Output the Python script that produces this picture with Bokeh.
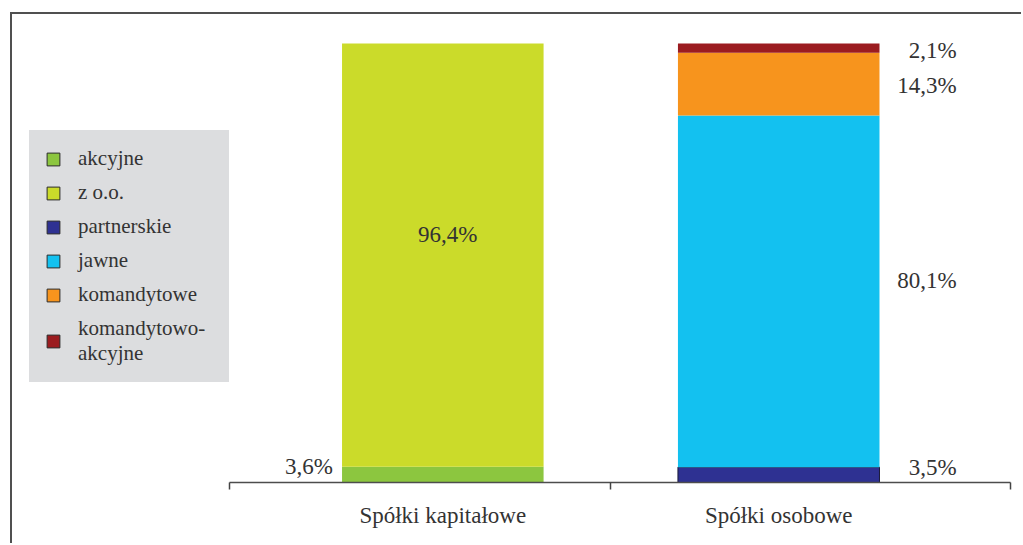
from bokeh.plotting import figure
from bokeh.models import ColumnDataSource, Range1d, FixedTicker, Legend, LegendItem
from bokeh.core.properties import value
from bokeh.embed import file_html
from bokeh.resources import INLINE

# --- data -------------------------------------------------------------
categories = ["Spółki kapitałowe", "Spółki osobowe"]
series_names = ["akcyjne", "z o.o.", "partnerskie", "jawne",
                "komandytowe", "komandytowo-\nakcyjne"]
akcyjne = [3.6, 0.0]
z_oo = [96.4, 0.0]
partnerskie = [0.0, 3.5]
jawne = [0.0, 80.1]
komandytowe = [0.0, 14.3]
komandytowo_akcyjne = [0.0, 2.1]

series_values = [akcyjne, z_oo, partnerskie, jawne, komandytowe, komandytowo_akcyjne]

# --- styles -----------------------------------------------------------
colors = ["#8cc63f", "#cbdb2a", "#2e3192", "#13c1f0", "#f7941d", "#9b1c20"]
outline = [None, None, "#1c1c3a", None, None, None]
FONT = "Liberation Serif"
TEXT = "#333333"
LEGEND_BG = "#dcdddf"

# where each segment's percentage sits: (x offset px, y offset px, align)
label_style = {
    "akcyjne": (-110, -8, "right"),
    "z o.o.": (5, -21, "center"),
    "partnerskie": (178, -7, "right"),
    "jawne": (178, -11, "right"),
    "komandytowe": (178, 1, "right"),
    "komandytowo-\nakcyjne": (178, 2, "right"),
}

x_pos = [i + 0.5 for i in range(len(categories))]
bar_width = 0.6
axis_start, axis_end = -0.135, 2.19

p = figure(
    width=1011, height=531,
    x_range=Range1d(-0.781, axis_end), y_range=Range1d(0, 105.24),
    output_backend="svg", toolbar_location=None,
    min_border_left=0, min_border_right=13,
    min_border_top=6, min_border_bottom=63,
)
p.margin = (12, 0, 0, 10)
p.styles = {"border-top": "2px solid #505050", "border-left": "2px solid #505050"}

# stacked bars and their percentage labels (only non-empty segments)
bottom = [0.0] * len(categories)
for name, vals, col, oc in zip(series_names, series_values, colors, outline):
    xs, bs, ts, mids, texts = [], [], [], [], []
    for x, b, v in zip(x_pos, bottom, vals):
        if v > 0:
            xs.append(x)
            bs.append(b)
            ts.append(b + v)
            mids.append(b + v / 2)
            texts.append(f"{v:.1f}".replace(".", ",") + "%")
    bottom = [b + v for b, v in zip(bottom, vals)]

    src = ColumnDataSource(dict(x=xs, bottom=bs, top=ts, mid=mids, text=texts))
    p.vbar(x="x", bottom="bottom", top="top", width=bar_width, source=src,
           fill_color=col, line_color=oc, line_width=1 if oc else 0)

    xo, yo, align = label_style[name]
    p.text(x="x", y="mid", text="text", source=src, x_offset=xo, y_offset=yo,
           text_align=align, text_baseline="middle",
           text_font=value(FONT), text_font_size="23px", text_color=TEXT)

# legend swatches: outlined squares, no marks of their own on the chart
nan = float("nan")
items = []
for name, col in zip(series_names, colors):
    r = p.vbar(x=[nan], top=[nan], width=bar_width, fill_color=col,
               line_color="#2a2a2a", line_width=1)
    items.append(LegendItem(label=name, renderers=[r]))

legend = Legend(
    items=items, location=(17, 100), margin=0, padding=15, spacing=9,
    glyph_width=16, glyph_height=16, label_standoff=17, label_width=135,
    label_text_font=FONT, label_text_font_size="21px", label_text_color=TEXT,
    background_fill_color=LEGEND_BG, background_fill_alpha=1.0,
    border_line_color=LEGEND_BG, border_line_width=1,
)
p.add_layout(legend, "center")

# axes
p.yaxis.visible = False
p.xgrid.grid_line_color = None
p.ygrid.grid_line_color = None
p.outline_line_color = None

ax = p.xaxis[0]
ax.bounds = (axis_start, axis_end)
ax.ticker = FixedTicker(ticks=x_pos, minor_ticks=[axis_start, 1.0, axis_end])
ax.major_label_overrides = {x: c for x, c in zip(x_pos, categories)}
ax.major_tick_line_color = None
ax.major_tick_out = 0
ax.major_tick_in = 0
ax.minor_tick_line_color = "#444444"
ax.minor_tick_line_width = 1.5
ax.minor_tick_out = 7
ax.minor_tick_in = 0
ax.axis_line_color = "#4d4d4d"
ax.axis_line_width = 1.5
ax.major_label_standoff = 13
ax.major_label_text_font = FONT
ax.major_label_text_font_size = "23px"
ax.major_label_text_color = TEXT

open("out.html", "w").write(file_html(p, INLINE))
